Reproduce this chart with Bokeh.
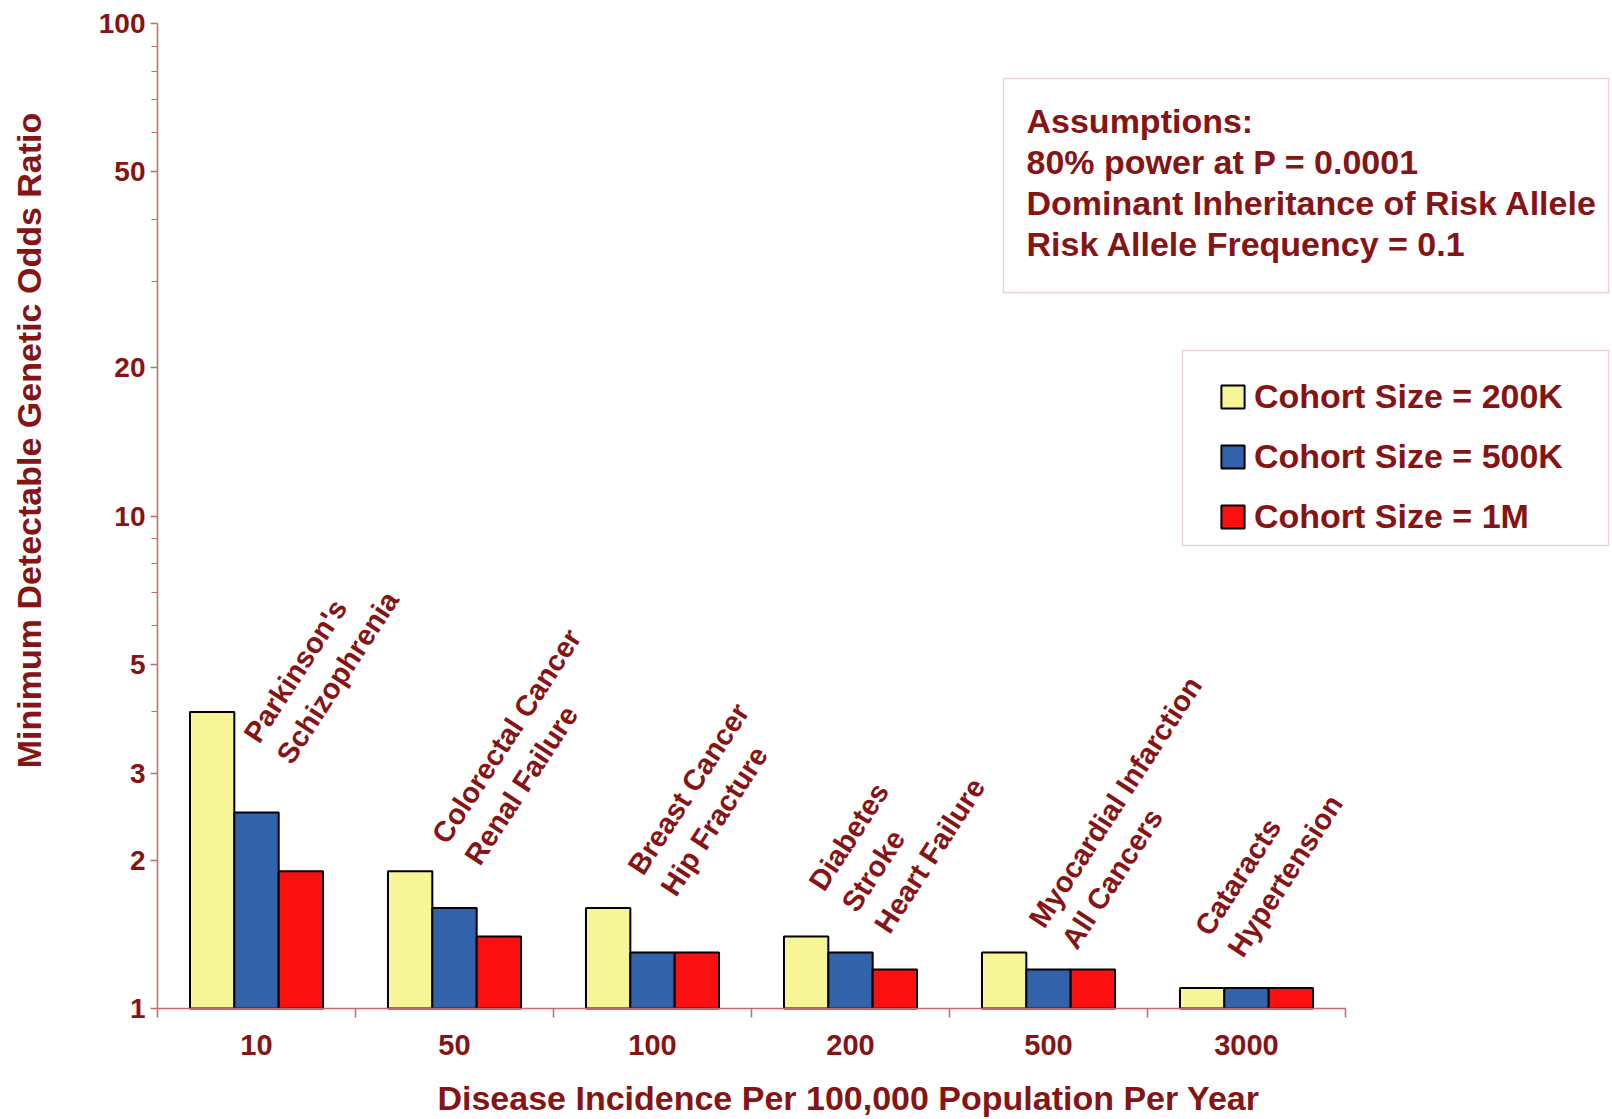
import numpy as np
from bokeh.plotting import figure
from bokeh.models import (Range1d, FixedTicker, Legend, LegendItem, BoxAnnotation,
                          Label, ColumnDataSource)
from bokeh.core.properties import value
from bokeh.embed import file_html
from bokeh.resources import INLINE

# ---------------- data ----------------
incidence = ["10", "50", "100", "200", "500", "3000"]
diseases = ["Parkinson's\nSchizophrenia",
            "Colorectal Cancer\nRenal Failure",
            "Breast Cancer\nHip Fracture",
            "Diabetes\nStroke\nHeart Failure",
            "Myocardial Infarction\nAll Cancers",
            "Cataracts\nHypertension"]
cohort_200k = [4.0, 1.9, 1.6, 1.4, 1.3, 1.1]
cohort_500k = [2.5, 1.6, 1.3, 1.3, 1.2, 1.1]
cohort_1m = [1.9, 1.4, 1.3, 1.2, 1.2, 1.1]
series_names = ["Cohort Size = 200K", "Cohort Size = 500K", "Cohort Size = 1M"]
y_major = [1, 2, 3, 5, 10, 20, 50, 100]
y_minor = [4, 6, 7, 8, 9, 30, 40, 60, 70, 80, 90]
assumptions = ["Assumptions:", "80% power at P = 0.0001",
               "Dominant Inheritance of Risk Allele", "Risk Allele Frequency = 0.1"]

# ---------------- layout / style (pixels) ----------------
W, H = 1610, 1119
X0_PX = 157          # pixel of x = 0 (left end of the category axis)
PX_UNIT = 198.0      # pixels per category
Y1_PX = 1008         # pixel of y = 1
PX_DECADE = 492.5    # pixels per decade on the log axis
LBL_SHIFT = 13       # Label anchor correction (px)

def dx(px):
    return (px - X0_PX) / PX_UNIT

def dy(py):
    return 10 ** ((Y1_PX - py) / PX_DECADE)

TXT = "#861414"
AX = "#C46A6A"
FONT = "Liberation Sans"
COLORS = ["#F6F699", "#3262AA", "#FA1010"]
BAR_W = 0.224

# start (baseline-left) of the first line of each rotated disease label, in pixels
label_px_x = [245, 433, 629, 810, 1030, 1196]
label_px_y = [742, 843, 874, 890, 927, 935]

p = figure(width=W, height=H, x_range=Range1d(dx(0), dx(W)), y_range=Range1d(dy(H), dy(0)),
           y_axis_type="log", output_backend="svg", toolbar_location=None,
           min_border_left=0, min_border_right=0, min_border_top=0, min_border_bottom=0)
p.outline_line_color = None
p.xgrid.visible = False
p.ygrid.visible = False
p.background_fill_color = "white"

centers = np.arange(len(incidence)) + 0.5
renderers = []
for k, vals in enumerate([cohort_200k, cohort_500k, cohort_1m]):
    src = ColumnDataSource(dict(x=centers + (k - 1) * BAR_W, top=vals))
    r = p.vbar(x="x", top="top", bottom=1, width=BAR_W, source=src,
               fill_color=COLORS[k], line_color="black", line_width=2)
    renderers.append(r)

# axes (drawn inside the frame at fixed locations)
xa = p.xaxis[0]
xa.fixed_location = 1
xa.ticker = FixedTicker(ticks=list(centers), minor_ticks=list(range(len(incidence) + 1)))
xa.major_label_overrides = {float(c): t for c, t in zip(centers, incidence)}
xa.bounds = (0, len(incidence))
xa.axis_line_color = AX
xa.axis_line_width = 1.5
xa.major_tick_line_color = None
xa.major_tick_out = 9
xa.major_tick_in = 0
xa.minor_tick_line_color = AX
xa.minor_tick_line_width = 1.5
xa.minor_tick_out = 9
xa.minor_tick_in = 0
xa.major_label_standoff = 17
xa.major_label_text_font = FONT
xa.major_label_text_font_style = "bold"
xa.major_label_text_font_size = "29px"
xa.major_label_text_color = TXT

ya = p.yaxis[0]
ya.fixed_location = 0
ya.ticker = FixedTicker(ticks=y_major, minor_ticks=y_minor)
ya.major_label_overrides = {v: str(v) for v in y_major}
ya.bounds = (1, 100)
ya.axis_line_color = AX
ya.axis_line_width = 1.5
ya.major_tick_line_color = AX
ya.major_tick_line_width = 1.5
ya.major_tick_out = 7
ya.major_tick_in = 0
ya.minor_tick_line_color = AX
ya.minor_tick_line_width = 1
ya.minor_tick_out = 6
ya.minor_tick_in = 0
ya.major_label_standoff = 5
ya.major_label_text_font = FONT
ya.major_label_text_font_style = "bold"
ya.major_label_text_font_size = "28px"
ya.major_label_text_color = TXT

# axis titles
p.add_layout(Label(x=dx(848), y=dy(1110 - LBL_SHIFT),
                   text="Disease Incidence Per 100,000 Population Per Year",
                   text_align="center", text_baseline="alphabetic",
                   text_font=FONT, text_font_style="bold", text_font_size="34px",
                   text_color=TXT))
p.add_layout(Label(x=dx(41 - LBL_SHIFT), y=dy(440), text="Minimum Detectable Genetic Odds Ratio",
                   angle=np.pi / 2, text_align="center", text_baseline="alphabetic",
                   text_font=FONT, text_font_style="bold", text_font_size="34px",
                   text_color=TXT))

# rotated disease labels
lsrc = ColumnDataSource(dict(x=[dx(v) for v in label_px_x], y=[dy(v) for v in label_px_y],
                             text=diseases))
p.text(x="x", y="y", text="text", source=lsrc, angle=np.radians(57),
       text_font=value(FONT), text_font_style="bold", text_font_size="29px",
       text_color=TXT, text_align="left", text_baseline="top", text_line_height=1.22,
       x_offset=-8, y_offset=-12)

# assumptions box
p.add_layout(BoxAnnotation(left=dx(1003), right=dx(W - 2), top=dy(78), bottom=dy(292),
                           fill_color=None, line_color=AX, line_width=1.5))
for i, t in enumerate(assumptions):
    p.add_layout(Label(x=dx(1026), y=dy(133 + 41 * i - LBL_SHIFT), text=t, text_align="left",
                       text_baseline="alphabetic", text_font=FONT, text_font_style="bold",
                       text_font_size="34px", text_color=TXT))

# legend
p.add_layout(BoxAnnotation(left=dx(1182), right=dx(W - 2), top=dy(350), bottom=dy(545),
                           fill_color=None, line_color=AX, line_width=1.5))
legend = Legend(items=[LegendItem(label=n, renderers=[r]) for n, r in zip(series_names, renderers)],
                location=(1218, H - 536), padding=0, margin=0, spacing=20,
                glyph_width=29, glyph_height=29, label_height=40, label_standoff=7,
                label_text_font=FONT, label_text_font_style="bold",
                label_text_font_size="34px", label_text_color=TXT,
                border_line_color=None, background_fill_alpha=0)
p.add_layout(legend)

open("out.html", "w").write(file_html(p, INLINE))
